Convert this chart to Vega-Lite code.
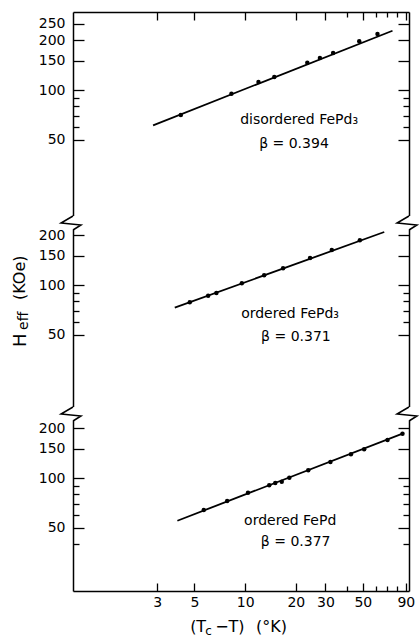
{
"$schema": "https://vega.github.io/schema/vega-lite/v6.json",
"padding": {"left": 12, "top": 11, "right": 0, "bottom": 0},
"spacing": 0,
"bounds": "flush",
"config": {"view": {"stroke": null}, "font": "DejaVu Sans",
 "axis": {"grid": false, "domainColor": "black", "tickColor": "black", "domainWidth": 1.5, "tickWidth": 1.3, "labelFont": "DejaVu Sans", "labelFontSize": 14, "labelColor": "black", "labelOverlap": false, "labelFlush": false}},
"datasets": {
 "one": [{}],
 "p1": [{"x":4.15,"y":70.7},{"x":8.29,"y":95.0},{"x":12.0,"y":111.7},{"x":14.9,"y":119.8},{"x":23.4,"y":146},{"x":27.8,"y":156},{"x":33.3,"y":167},{"x":47.6,"y":196.5},{"x":61.1,"y":217.5}],
 "fit1": [{"x":2.84,"y":61.3},{"x":75.0,"y":227.6}],
 "p2": [{"x":4.69,"y":78.7},{"x":6.03,"y":86.2},{"x":6.75,"y":89.5},{"x":9.56,"y":102.4},{"x":12.97,"y":114.4},{"x":16.8,"y":126.1},{"x":24.3,"y":145.4},{"x":32.7,"y":162.5},{"x":48.0,"y":185.9}],
 "fit2": [{"x":3.82,"y":73.0},{"x":67.0,"y":208.6}],
 "p3": [{"x":5.68,"y":64.2},{"x":7.82,"y":72.7},{"x":10.4,"y":81.5},{"x":13.9,"y":90.4},{"x":15.1,"y":93.3},{"x":16.5,"y":95.0},{"x":18.3,"y":100.4},{"x":23.7,"y":111.3},{"x":32.1,"y":124.9},{"x":42.5,"y":139.0},{"x":50.9,"y":148.9},{"x":70.1,"y":169.4},{"x":86.0,"y":184.9}],
 "fit3": [{"x":3.96,"y":55.3},{"x":86.0,"y":184.9}]
},
"vconcat": [
 {"width": 336, "height": 211,
  "resolve": {"axis": {"x": "independent", "y": "independent"}},
  "layer": [
   {"data": {"name": "fit1"}, "mark": {"type": "line", "color": "black", "strokeWidth": 1.8},
    "encoding": {
     "x": {"field": "x", "type": "quantitative", "scale": {"type": "log", "domain": [0.95, 94], "nice": false}, "axis": {"orient": "bottom", "offset": -211, "values": [3,5,10,20,30,50,90], "labelExpr": "''", "tickSize": 8, "title": null, "tickColor": "black", "domainColor": "black"}},
     "y": {"field": "y", "type": "quantitative", "scale": {"type": "log", "domain": [15.81, 295.1], "nice": false}, "axis": {"orient": "left", "values": [50,100,150,200,250], "ticks": false, "labelPadding": 8, "labelExpr": "datum.value", "title": null, "domainColor": "black"}}}},
   {"data": {"name": "p1"}, "mark": {"type": "circle", "color": "black", "size": 20, "opacity": 1},
    "encoding": {
     "x": {"field": "x", "type": "quantitative", "scale": {"type": "log", "domain": [0.95, 94], "nice": false}, "axis": {"orient": "bottom", "offset": -211, "values": [40,60,70,80], "labelExpr": "''", "domain": false, "tickSize": 5, "title": null, "tickColor": "black"}},
     "y": {"field": "y", "type": "quantitative", "scale": {"type": "log", "domain": [15.81, 295.1], "nice": false}, "axis": {"orient": "right", "offset": -336, "values": [50,100,150,200,250], "labelExpr": "''", "domain": false, "tickSize": 11, "title": null, "tickColor": "black"}}}},
   {"data": {"name": "p1"}, "mark": {"type": "point", "opacity": 0},
    "encoding": {
     "x": {"field": "x", "type": "quantitative", "scale": {"type": "log", "domain": [0.95, 94], "nice": false}, "axis": null},
     "y": {"field": "y", "type": "quantitative", "scale": {"type": "log", "domain": [15.81, 295.1], "nice": false}, "axis": {"orient": "right", "offset": -336, "values": [60,70,80,90], "labelExpr": "''", "domain": false, "tickSize": 6, "title": null, "tickColor": "black"}}}},
   {"data": {"name": "p1"}, "mark": {"type": "point", "opacity": 0},
    "encoding": {
     "x": {"field": "x", "type": "quantitative", "scale": {"type": "log", "domain": [0.95, 94], "nice": false}, "axis": null},
     "y": {"field": "y", "type": "quantitative", "scale": {"type": "log", "domain": [15.81, 295.1], "nice": false}, "axis": {"orient": "left", "offset": -336, "values": [50,100,150,200,250], "labelExpr": "''", "tickSize": 11, "title": null, "tickColor": "black", "domainColor": "black"}}}},
   {"data": {"name": "p1"}, "mark": {"type": "point", "opacity": 0},
    "encoding": {
     "x": {"field": "x", "type": "quantitative", "scale": {"type": "log", "domain": [0.95, 94], "nice": false}, "axis": null},
     "y": {"field": "y", "type": "quantitative", "scale": {"type": "log", "domain": [15.81, 295.1], "nice": false}, "axis": {"orient": "left", "offset": -336, "values": [60,70,80,90], "labelExpr": "''", "domain": false, "tickSize": 6, "title": null, "tickColor": "black"}}}},
   {"data": {"name": "one"}, "mark": {"type": "text", "text": "disordered  FePd₃", "align": "left", "baseline": "alphabetic", "fontSize": 14, "font": "DejaVu Sans", "color": "black"},
    "encoding": {
     "x": {"datum": 9.34, "type": "quantitative", "scale": {"type": "log", "domain": [0.95, 94], "nice": false}, "axis": null},
     "y": {"datum": 62.4, "type": "quantitative", "scale": {"type": "log", "domain": [15.81, 295.1], "nice": false}, "axis": null}}},
   {"data": {"name": "one"}, "mark": {"type": "text", "text": "β = 0.394", "align": "left", "baseline": "alphabetic", "fontSize": 14, "font": "DejaVu Sans", "color": "black"},
    "encoding": {
     "x": {"datum": 12.11, "type": "quantitative", "scale": {"type": "log", "domain": [0.95, 94], "nice": false}, "axis": null},
     "y": {"datum": 44.7, "type": "quantitative", "scale": {"type": "log", "domain": [15.81, 295.1], "nice": false}, "axis": null}}}
  ]},
 {"width": 336, "height": 191,
  "resolve": {"axis": {"x": "independent", "y": "independent"}},
  "layer": [
   {"data": {"name": "fit2"}, "mark": {"type": "line", "color": "black", "strokeWidth": 1.8},
    "encoding": {
     "x": {"field": "x", "type": "quantitative", "scale": {"type": "log", "domain": [0.95, 94], "nice": false}, "axis": null},
     "y": {"field": "y", "type": "quantitative", "scale": {"type": "log", "domain": [16.71, 236.3], "nice": false}, "axis": {"orient": "left", "values": [50,100,150,200], "ticks": false, "labelPadding": 8, "labelExpr": "datum.value", "title": null, "domainColor": "black"}}}},
   {"data": {"name": "p2"}, "mark": {"type": "circle", "color": "black", "size": 20, "opacity": 1},
    "encoding": {
     "x": {"field": "x", "type": "quantitative", "scale": {"type": "log", "domain": [0.95, 94], "nice": false}, "axis": null},
     "y": {"field": "y", "type": "quantitative", "scale": {"type": "log", "domain": [16.71, 236.3], "nice": false}, "axis": {"orient": "right", "offset": -336, "values": [50,100,150,200], "labelExpr": "''", "domain": false, "tickSize": 11, "title": null, "tickColor": "black"}}}},
   {"data": {"name": "p2"}, "mark": {"type": "point", "opacity": 0},
    "encoding": {
     "x": {"field": "x", "type": "quantitative", "scale": {"type": "log", "domain": [0.95, 94], "nice": false}, "axis": null},
     "y": {"field": "y", "type": "quantitative", "scale": {"type": "log", "domain": [16.71, 236.3], "nice": false}, "axis": {"orient": "right", "offset": -336, "values": [60,70,80,90], "labelExpr": "''", "domain": false, "tickSize": 6, "title": null, "tickColor": "black"}}}},
   {"data": {"name": "p2"}, "mark": {"type": "point", "opacity": 0},
    "encoding": {
     "x": {"field": "x", "type": "quantitative", "scale": {"type": "log", "domain": [0.95, 94], "nice": false}, "axis": null},
     "y": {"field": "y", "type": "quantitative", "scale": {"type": "log", "domain": [16.71, 236.3], "nice": false}, "axis": {"orient": "left", "offset": -336, "values": [50,100,150,200], "labelExpr": "''", "tickSize": 11, "title": null, "tickColor": "black", "domainColor": "black"}}}},
   {"data": {"name": "p2"}, "mark": {"type": "point", "opacity": 0},
    "encoding": {
     "x": {"field": "x", "type": "quantitative", "scale": {"type": "log", "domain": [0.95, 94], "nice": false}, "axis": null},
     "y": {"field": "y", "type": "quantitative", "scale": {"type": "log", "domain": [16.71, 236.3], "nice": false}, "axis": {"orient": "left", "offset": -336, "values": [60,70,80,90], "labelExpr": "''", "domain": false, "tickSize": 6, "title": null, "tickColor": "black"}}}},
   {"data": {"name": "one"}, "mark": {"type": "text", "text": "ordered  FePd₃", "align": "left", "baseline": "alphabetic", "fontSize": 14, "font": "DejaVu Sans", "color": "black"},
    "encoding": {
     "x": {"datum": 9.47, "type": "quantitative", "scale": {"type": "log", "domain": [0.95, 94], "nice": false}, "axis": null},
     "y": {"datum": 63.2, "type": "quantitative", "scale": {"type": "log", "domain": [16.71, 236.3], "nice": false}, "axis": null}}},
   {"data": {"name": "one"}, "mark": {"type": "text", "text": "β = 0.371", "align": "left", "baseline": "alphabetic", "fontSize": 14, "font": "DejaVu Sans", "color": "black"},
    "encoding": {
     "x": {"datum": 12.44, "type": "quantitative", "scale": {"type": "log", "domain": [0.95, 94], "nice": false}, "axis": null},
     "y": {"datum": 46.0, "type": "quantitative", "scale": {"type": "log", "domain": [16.71, 236.3], "nice": false}, "axis": null}}},
   {"data": {"name": "one"}, "mark": {"type": "text", "text": "H", "align": "left", "baseline": "alphabetic", "angle": 270, "fontSize": 18, "font": "DejaVu Sans", "color": "black"},
    "encoding": {
     "x": {"datum": 0.5006, "type": "quantitative", "scale": {"type": "log", "domain": [0.95, 94], "nice": false}, "axis": null},
     "y": {"datum": 42.3, "type": "quantitative", "scale": {"type": "log", "domain": [16.71, 236.3], "nice": false}, "axis": null}}},
   {"data": {"name": "one"}, "mark": {"type": "text", "text": "eff", "align": "left", "baseline": "alphabetic", "angle": 270, "fontSize": 14, "font": "DejaVu Sans", "color": "black"},
    "encoding": {
     "x": {"datum": 0.5145, "type": "quantitative", "scale": {"type": "log", "domain": [0.95, 94], "nice": false}, "axis": null},
     "y": {"datum": 53.6, "type": "quantitative", "scale": {"type": "log", "domain": [16.71, 236.3], "nice": false}, "axis": null}}},
   {"data": {"name": "one"}, "mark": {"type": "text", "text": "(KOe)", "align": "left", "baseline": "alphabetic", "angle": 270, "fontSize": 16, "font": "DejaVu Sans", "color": "black"},
    "encoding": {
     "x": {"datum": 0.4938, "type": "quantitative", "scale": {"type": "log", "domain": [0.95, 94], "nice": false}, "axis": null},
     "y": {"datum": 81.2, "type": "quantitative", "scale": {"type": "log", "domain": [16.71, 236.3], "nice": false}, "axis": null}}},
   {"data": {"name": "one"}, "mark": {"type": "point", "shape": "M0,-0.875L0,0.875", "filled": false, "color": "white", "strokeWidth": 4, "size": 256, "opacity": 1},
    "encoding": {
     "x": {"datum": 0.95, "type": "quantitative", "scale": {"type": "log", "domain": [0.95, 94], "nice": false}, "axis": null},
     "y": {"datum": 236.3, "type": "quantitative", "scale": {"type": "log", "domain": [16.71, 236.3], "nice": false}, "axis": null}}},
   {"data": {"name": "one"}, "mark": {"type": "point", "shape": "M0,-0.875L0,0.875", "filled": false, "color": "white", "strokeWidth": 4, "size": 256, "opacity": 1},
    "encoding": {
     "x": {"datum": 94, "type": "quantitative", "scale": {"type": "log", "domain": [0.95, 94], "nice": false}, "axis": null},
     "y": {"datum": 236.3, "type": "quantitative", "scale": {"type": "log", "domain": [16.71, 236.3], "nice": false}, "axis": null}}},
   {"data": {"name": "one"}, "mark": {"type": "point", "shape": "M0,-0.875L-1.5,0L1,0.25L0,0.875", "filled": false, "color": "black", "strokeWidth": 1.5, "size": 256, "opacity": 1},
    "encoding": {
     "x": {"datum": 0.95, "type": "quantitative", "scale": {"type": "log", "domain": [0.95, 94], "nice": false}, "axis": null},
     "y": {"datum": 236.3, "type": "quantitative", "scale": {"type": "log", "domain": [16.71, 236.3], "nice": false}, "axis": null}}},
   {"data": {"name": "one"}, "mark": {"type": "point", "shape": "M0,-0.875L-1.5,0L1,0.25L0,0.875", "filled": false, "color": "black", "strokeWidth": 1.5, "size": 256, "opacity": 1},
    "encoding": {
     "x": {"datum": 94, "type": "quantitative", "scale": {"type": "log", "domain": [0.95, 94], "nice": false}, "axis": null},
     "y": {"datum": 236.3, "type": "quantitative", "scale": {"type": "log", "domain": [16.71, 236.3], "nice": false}, "axis": null}}}
  ]},
 {"width": 336, "height": 177,
  "resolve": {"axis": {"x": "independent", "y": "independent"}},
  "layer": [
   {"data": {"name": "fit3"}, "mark": {"type": "line", "color": "black", "strokeWidth": 1.8},
    "encoding": {
     "x": {"field": "x", "type": "quantitative", "scale": {"type": "log", "domain": [0.95, 94], "nice": false}, "axis": {"orient": "bottom", "values": [3,5,10,20,30,50,90], "ticks": false, "labelPadding": 4, "labelExpr": "datum.value", "title": null, "domainColor": "black"}},
     "y": {"field": "y", "type": "quantitative", "scale": {"type": "log", "domain": [20.86, 243.0], "nice": false}, "axis": {"orient": "left", "values": [50,100,150,200], "ticks": false, "labelPadding": 8, "labelExpr": "datum.value", "title": null, "domainColor": "black"}}}},
   {"data": {"name": "p3"}, "mark": {"type": "circle", "color": "black", "size": 20, "opacity": 1},
    "encoding": {
     "x": {"field": "x", "type": "quantitative", "scale": {"type": "log", "domain": [0.95, 94], "nice": false}, "axis": {"orient": "top", "offset": -177, "values": [3,5,10,20,30,50,90], "labelExpr": "''", "domain": false, "tickSize": 8, "title": null, "tickColor": "black"}},
     "y": {"field": "y", "type": "quantitative", "scale": {"type": "log", "domain": [20.86, 243.0], "nice": false}, "axis": {"orient": "right", "offset": -336, "values": [50,100,150,200], "labelExpr": "''", "domain": false, "tickSize": 11, "title": null, "tickColor": "black"}}}},
   {"data": {"name": "p3"}, "mark": {"type": "point", "opacity": 0},
    "encoding": {
     "x": {"field": "x", "type": "quantitative", "scale": {"type": "log", "domain": [0.95, 94], "nice": false}, "axis": {"orient": "top", "offset": -177, "values": [40,60,70,80], "labelExpr": "''", "domain": false, "tickSize": 5, "title": null, "tickColor": "black"}},
     "y": {"field": "y", "type": "quantitative", "scale": {"type": "log", "domain": [20.86, 243.0], "nice": false}, "axis": {"orient": "right", "offset": -336, "values": [40,60,70,80,90], "labelExpr": "''", "domain": false, "tickSize": 6, "title": null, "tickColor": "black"}}}},
   {"data": {"name": "p3"}, "mark": {"type": "point", "opacity": 0},
    "encoding": {
     "x": {"field": "x", "type": "quantitative", "scale": {"type": "log", "domain": [0.95, 94], "nice": false}, "axis": null},
     "y": {"field": "y", "type": "quantitative", "scale": {"type": "log", "domain": [20.86, 243.0], "nice": false}, "axis": {"orient": "left", "offset": -336, "values": [50,100,150,200], "labelExpr": "''", "tickSize": 11, "title": null, "tickColor": "black", "domainColor": "black"}}}},
   {"data": {"name": "p3"}, "mark": {"type": "point", "opacity": 0},
    "encoding": {
     "x": {"field": "x", "type": "quantitative", "scale": {"type": "log", "domain": [0.95, 94], "nice": false}, "axis": null},
     "y": {"field": "y", "type": "quantitative", "scale": {"type": "log", "domain": [20.86, 243.0], "nice": false}, "axis": {"orient": "left", "offset": -336, "values": [40,60,70,80,90], "labelExpr": "''", "domain": false, "tickSize": 6, "title": null, "tickColor": "black"}}}},
   {"data": {"name": "one"}, "mark": {"type": "text", "text": "ordered  FePd", "align": "left", "baseline": "alphabetic", "fontSize": 14, "font": "DejaVu Sans", "color": "black"},
    "encoding": {
     "x": {"datum": 9.86, "type": "quantitative", "scale": {"type": "log", "domain": [0.95, 94], "nice": false}, "axis": null},
     "y": {"datum": 52.1, "type": "quantitative", "scale": {"type": "log", "domain": [20.86, 243.0], "nice": false}, "axis": null}}},
   {"data": {"name": "one"}, "mark": {"type": "text", "text": "β = 0.377", "align": "left", "baseline": "alphabetic", "fontSize": 14, "font": "DejaVu Sans", "color": "black"},
    "encoding": {
     "x": {"datum": 12.39, "type": "quantitative", "scale": {"type": "log", "domain": [0.95, 94], "nice": false}, "axis": null},
     "y": {"datum": 39.1, "type": "quantitative", "scale": {"type": "log", "domain": [20.86, 243.0], "nice": false}, "axis": null}}},
   {"data": {"name": "one"}, "mark": {"type": "text", "text": "(T", "align": "left", "baseline": "alphabetic", "fontSize": 16, "font": "DejaVu Sans", "color": "black"},
    "encoding": {
     "x": {"datum": 4.713, "type": "quantitative", "scale": {"type": "log", "domain": [0.95, 94], "nice": false}, "axis": null},
     "y": {"datum": 11.81, "type": "quantitative", "scale": {"type": "log", "domain": [20.86, 243.0], "nice": false}, "axis": null}}},
   {"data": {"name": "one"}, "mark": {"type": "text", "text": "c", "align": "left", "baseline": "alphabetic", "fontSize": 12, "font": "DejaVu Sans", "color": "black"},
    "encoding": {
     "x": {"datum": 5.787, "type": "quantitative", "scale": {"type": "log", "domain": [0.95, 94], "nice": false}, "axis": null},
     "y": {"datum": 11.33, "type": "quantitative", "scale": {"type": "log", "domain": [20.86, 243.0], "nice": false}, "axis": null}}},
   {"data": {"name": "one"}, "mark": {"type": "text", "text": "−T)", "align": "left", "baseline": "alphabetic", "fontSize": 16, "font": "DejaVu Sans", "color": "black"},
    "encoding": {
     "x": {"datum": 6.635, "type": "quantitative", "scale": {"type": "log", "domain": [0.95, 94], "nice": false}, "axis": null},
     "y": {"datum": 11.81, "type": "quantitative", "scale": {"type": "log", "domain": [20.86, 243.0], "nice": false}, "axis": null}}},
   {"data": {"name": "one"}, "mark": {"type": "text", "text": "(°K)", "align": "left", "baseline": "alphabetic", "fontSize": 16, "font": "DejaVu Sans", "color": "black"},
    "encoding": {
     "x": {"datum": 11.62, "type": "quantitative", "scale": {"type": "log", "domain": [0.95, 94], "nice": false}, "axis": null},
     "y": {"datum": 11.81, "type": "quantitative", "scale": {"type": "log", "domain": [20.86, 243.0], "nice": false}, "axis": null}}},
   {"data": {"name": "one"}, "mark": {"type": "point", "shape": "M0,-0.875L0,0.875", "filled": false, "color": "white", "strokeWidth": 4, "size": 256, "opacity": 1},
    "encoding": {
     "x": {"datum": 0.95, "type": "quantitative", "scale": {"type": "log", "domain": [0.95, 94], "nice": false}, "axis": null},
     "y": {"datum": 243.0, "type": "quantitative", "scale": {"type": "log", "domain": [20.86, 243.0], "nice": false}, "axis": null}}},
   {"data": {"name": "one"}, "mark": {"type": "point", "shape": "M0,-0.875L0,0.875", "filled": false, "color": "white", "strokeWidth": 4, "size": 256, "opacity": 1},
    "encoding": {
     "x": {"datum": 94, "type": "quantitative", "scale": {"type": "log", "domain": [0.95, 94], "nice": false}, "axis": null},
     "y": {"datum": 243.0, "type": "quantitative", "scale": {"type": "log", "domain": [20.86, 243.0], "nice": false}, "axis": null}}},
   {"data": {"name": "one"}, "mark": {"type": "point", "shape": "M0,-0.875L-1.5,0L1,0.25L0,0.875", "filled": false, "color": "black", "strokeWidth": 1.5, "size": 256, "opacity": 1},
    "encoding": {
     "x": {"datum": 0.95, "type": "quantitative", "scale": {"type": "log", "domain": [0.95, 94], "nice": false}, "axis": null},
     "y": {"datum": 243.0, "type": "quantitative", "scale": {"type": "log", "domain": [20.86, 243.0], "nice": false}, "axis": null}}},
   {"data": {"name": "one"}, "mark": {"type": "point", "shape": "M0,-0.875L-1.5,0L1,0.25L0,0.875", "filled": false, "color": "black", "strokeWidth": 1.5, "size": 256, "opacity": 1},
    "encoding": {
     "x": {"datum": 94, "type": "quantitative", "scale": {"type": "log", "domain": [0.95, 94], "nice": false}, "axis": null},
     "y": {"datum": 243.0, "type": "quantitative", "scale": {"type": "log", "domain": [20.86, 243.0], "nice": false}, "axis": null}}}
  ]}
]
}
